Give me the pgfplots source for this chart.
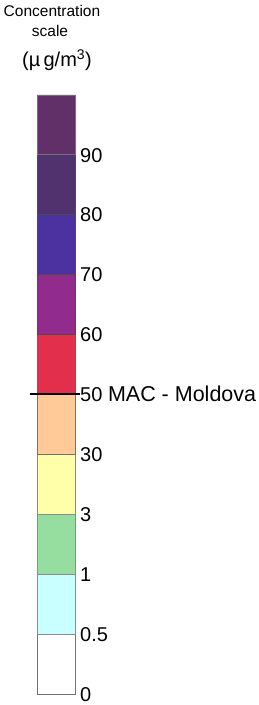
\documentclass[border=0pt]{standalone}
\usepackage{fontspec}
\setmainfont{Liberation Sans}
\usepackage{pgfplots}
\pgfplotsset{compat=1.18}
\definecolor{c1}{RGB}{255,255,255}
\definecolor{c2}{RGB}{202,255,255}
\definecolor{c3}{RGB}{150,221,160}
\definecolor{c4}{RGB}{255,255,170}
\definecolor{c5}{RGB}{255,202,152}
\definecolor{c6}{RGB}{226,48,76}
\definecolor{c7}{RGB}{146,44,140}
\definecolor{c8}{RGB}{76,50,160}
\definecolor{c9}{RGB}{80,50,110}
\definecolor{c10}{RGB}{98,48,104}
\begin{document}
\begin{tikzpicture}
\begin{axis}[
  name=cb,
  scale only axis,
  width=38pt, height=599pt,
  xmin=0, xmax=1, ymin=0, ymax=10,
  clip=false,
  axis line style={draw=none},
  xtick=\empty,
  ytick={0,1,2,3,4,5,6,7,8,9},
  yticklabels={0,0.5,1,3,30,{50 {\fontsize{21.5}{24}\selectfont MAC - Moldova}},60,70,80,90},
  yticklabel pos=right,
  major tick length=0pt,
  /pgf/number format/assume math mode=true,
  yticklabel style={anchor=base west, inner sep=0pt, text depth=0pt, xshift=5pt, yshift=-7.2pt, font=\fontsize{20}{22}\selectfont},
]
\addplot[fill=c1, draw=black!55, line width=0.8pt] coordinates {(0,0) (1,0) (1,1) (0,1) (0,0)};
\addplot[fill=c2, draw=black!45, line width=0.8pt] coordinates {(0,1) (1,1) (1,2) (0,2) (0,1)};
\addplot[fill=c3, draw=black!45, line width=0.8pt] coordinates {(0,2) (1,2) (1,3) (0,3) (0,2)};
\addplot[fill=c4, draw=black!45, line width=0.8pt] coordinates {(0,3) (1,3) (1,4) (0,4) (0,3)};
\addplot[fill=c5, draw=black!55, line width=0.8pt] coordinates {(0,4) (1,4) (1,5) (0,5) (0,4)};
\addplot[fill=c6, draw=black!60, line width=0.8pt] coordinates {(0,5) (1,5) (1,6) (0,6) (0,5)};
\addplot[fill=c7, draw=black!70, line width=0.8pt] coordinates {(0,6) (1,6) (1,7) (0,7) (0,6)};
\addplot[fill=c8, draw=black!70, line width=0.8pt] coordinates {(0,7) (1,7) (1,8) (0,8) (0,7)};
\addplot[fill=c9, draw=black!70, line width=0.8pt] coordinates {(0,8) (1,8) (1,9) (0,9) (0,8)};
\addplot[fill=c10, draw=black!55, line width=0.8pt] coordinates {(0,9) (1,9) (1,10) (0,10) (0,9)};
\addplot[black, line width=2pt] coordinates {(-0.19,5) (1.13,5)};
\end{axis}
\node[anchor=base, font=\fontsize{15.5}{17}\selectfont, inner sep=0pt] at ([xshift=15pt,yshift=78pt]cb.north west) {Concentration};
\node[anchor=base, font=\fontsize{15.5}{17}\selectfont, inner sep=0pt] at ([xshift=13pt,yshift=58pt]cb.north west) {scale};
\node[anchor=base, font=\fontsize{20}{22}\selectfont, inner sep=0pt] at ([xshift=20pt,yshift=28pt]cb.north west) {(µ\,g/m\textsuperscript{3})};
\pgfresetboundingbox
\path ([xshift=-37pt,yshift=-11pt]cb.south west) rectangle ([xshift=183pt,yshift=95pt]cb.north east);
\end{tikzpicture}
\end{document}
